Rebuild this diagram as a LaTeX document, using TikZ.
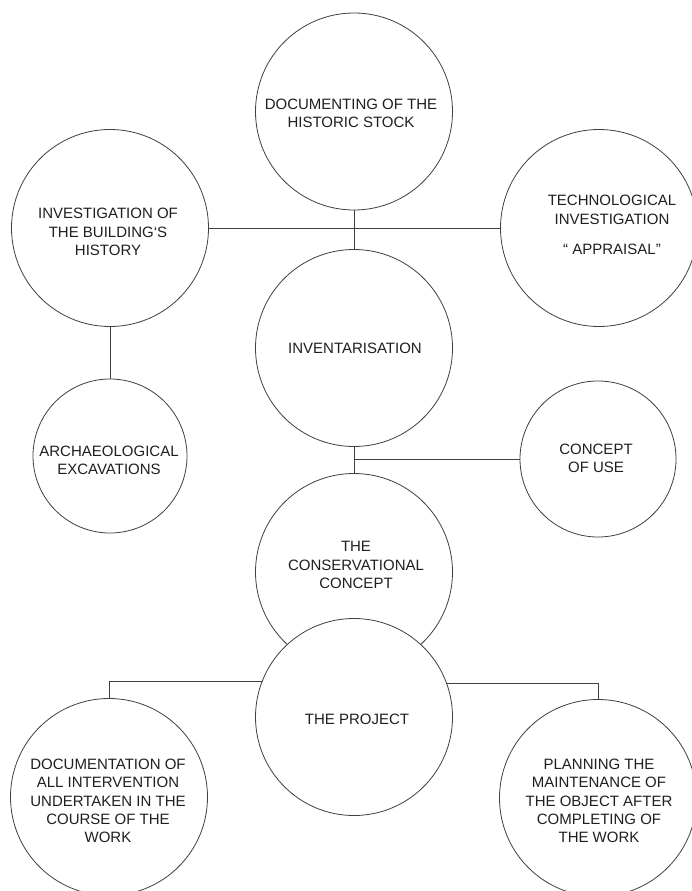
\documentclass[tikz,border=0pt]{standalone}
\usepackage{fontspec}
\setmainfont{Liberation Sans}
\begin{document}
\begin{tikzpicture}[x=1pt,y=-1pt,
  bub/.style={circle,draw=black!75,line width=0.8pt,fill=white,inner sep=0pt,outer sep=0pt,minimum size=#1},
  bub/.default=197pt,
  lbl/.style={align=center,font=\fontsize{15}{18.3}\selectfont,text=black!88,inner sep=0pt},
  con/.style={draw=black!75,line width=0.8pt}]
\clip (0,0) rectangle (692,891);
\fill[white] (0,0) rectangle (692,891);
% circles
\node[bub] (hist) at (354,111.5) {};
\node[bub] (inv) at (110,228) {};
\node[bub] (tech) at (599,228) {};
\node[bub] (invent) at (354,348) {};
\node[bub=154pt] (arch) at (110,456) {};
\node[bub=156pt] (use) at (598,459) {};
\node[bub] (cons) at (354,572) {};
\node[bub] (proj) at (354,717) {};
\node[bub] (doc) at (109,797) {};
\node[bub] (plan) at (598,798) {};
% connectors
\draw[con] (hist.south) -- (invent.north);
\draw[con] (inv.east) -- (tech.west);
\draw[con] (inv.south) -- (arch.north);
\draw[con] (invent.south) -- (cons.north);
\coordinate (j1) at (354,459);
\draw[con] (j1) -- (use.west);
\draw[con] (proj.159.8) -| (doc.north);
\draw[con] (proj.20.2) -| (plan.north);
% labels
\node[lbl] (hist-t) at (351,113) {DOCUMENTING OF THE\\HISTORIC STOCK};
\node[lbl] (inv-t) at (108,232) {INVESTIGATION OF\\THE BUILDING‘S\\HISTORY};
\node[lbl] (tech-t) at (612,225) {TECHNOLOGICAL\\INVESTIGATION\\[12pt]“ APPRAISAL”};
\node[lbl] (invent-t) at (355,348) {INVENTARISATION};
\node[lbl] (arch-t) at (109,460) {ARCHAEOLOGICAL\\EXCAVATIONS};
\node[lbl] (use-t) at (596,458) {CONCEPT\\OF USE};
\node[lbl] (cons-t) at (356,565) {THE\\CONSERVATIONAL\\CONCEPT};
\node[lbl] (proj-t) at (357,719) {THE PROJECT};
\node[lbl] (doc-t) at (108,801) {DOCUMENTATION OF\\ALL INTERVENTION\\UNDERTAKEN IN THE\\COURSE OF THE\\WORK};
\node[lbl] (plan-t) at (599,801) {PLANNING THE\\MAINTENANCE OF\\THE OBJECT AFTER\\COMPLETING OF\\THE WORK};
\end{tikzpicture}
\end{document}
